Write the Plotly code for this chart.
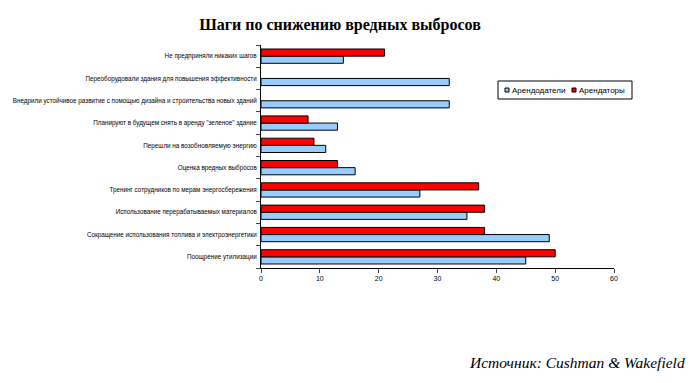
import plotly.graph_objects as go

categories = [
    "Поощрение утилизации",
    "Сокращение использования топлива и электроэнергетики",
    "Использование перерабатываемых материалов",
    "Тренинг сотрудников по мерам энергосбережения",
    "Оценка вредных выбросов",
    "Перешли на возобновляемую энергию",
    "Планируют в будущем снять в аренду \"зеленое\" здание",
    "Внедрили устойчивое развитие с помощью дизайна и строительства новых зданий",
    "Переоборудовали здания для повышения эффективности",
    "Не предприняли никаких шагов",
]
landlords = [45, 49, 35, 27, 16, 11, 13, 32, 32, 14]
tenants = [50, 38, 38, 37, 13, 9, 8, None, None, 21]
x_ticks = [0, 10, 20, 30, 40, 50, 60]
series_names = ["Арендодатели", "Арендаторы"]
series_colors = ["#99CCFF", "#FF0000"]

fig = go.Figure()
for name, vals, col in zip(series_names, [landlords, tenants], series_colors):
    fig.add_trace(go.Bar(
        y=categories, x=vals, orientation="h", name=name,
        marker=dict(color=col, line=dict(color="black", width=1)),
    ))

# page has 8px body margin; figure sized to fit
W, H = 690, 375
fig.update_layout(
    width=W, height=H,
    margin=dict(l=253, r=84, t=37, b=115, autoexpand=False),
    paper_bgcolor="white", plot_bgcolor="white",
    barmode="group", bargap=0.36, bargroupgap=0,
    font=dict(family="Liberation Sans, Arial, sans-serif", size=7, color="black"),
    title=dict(
        text="<b>Шаги по снижению вредных выбросов</b>",
        x=332 / W, xref="container", xanchor="center",
        y=1 - 16 / H, yref="container", yanchor="middle",
        font=dict(family="Liberation Serif, Times New Roman, serif", size=16, color="black"),
    ),
    showlegend=False,
)
fig.update_xaxes(
    range=[0, 60], tickvals=x_ticks, ticks="outside", ticklen=4,
    showline=True, linecolor="black", linewidth=1, showgrid=False,
    zeroline=False, tickfont=dict(size=7), automargin=False,
)
fig.update_yaxes(
    type="category", ticks="outside", ticklen=4, tickson="boundaries",
    showline=True, linecolor="black", linewidth=1, showgrid=False,
    tickfont=dict(size=6.3), ticklabelstandoff=2, automargin=False,
)

# legend box (manual)
def px(xp):
    return (xp - 261) / 353

def py(yp):
    return (268 - yp) / 223

fig.add_shape(type="rect", xref="paper", yref="paper",
              x0=px(498), x1=px(632), y0=py(99), y1=py(81),
              line=dict(color="black", width=1), fillcolor="white")
leg_sq_x = [505, 572]
leg_txt_x = [510, 577]
for name, col, sx, tx in zip(series_names, series_colors, leg_sq_x, leg_txt_x):
    fig.add_shape(type="rect", xref="paper", yref="paper",
                  x0=px(sx), x1=px(sx + 4), y0=py(92), y1=py(88),
                  line=dict(color="black", width=1), fillcolor=col)
    fig.add_annotation(text=name, xref="paper", yref="paper",
                       x=px(tx), y=py(90), xanchor="left", yanchor="middle",
                       showarrow=False, font=dict(size=8))

fig.add_annotation(
    text="<i>Источник: Cushman &amp; Wakefield</i>",
    xref="paper", yref="paper", x=px(687), y=py(362),
    xanchor="right", yanchor="middle", showarrow=False,
    font=dict(family="Liberation Serif, Times New Roman, serif", size=15.5, color="black"),
)

fig.write_html("out.html")
